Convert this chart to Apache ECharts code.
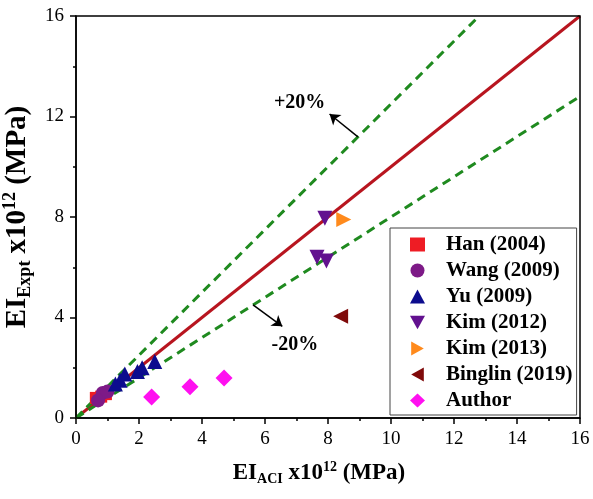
<!DOCTYPE html>
<html>
<head>
<meta charset="utf-8">
<script src="https://cdn.jsdelivr.net/npm/echarts@6/dist/echarts.min.js"></script>
<style>
  html, body { margin: 0; padding: 0; background: #fff; }
  #chart { width: 593px; height: 499px; }
</style>
</head>
<body>
<div id="chart"></div>
<script>
// data: [EI_ACI, EI_Expt] x10^12 MPa
var han = [[0.63, 0.8], [0.8, 0.85], [0.95, 0.95]];
var wang = [[0.85, 1.0], [0.7, 0.7], [1.0, 1.05]];
var yu = [[1.25, 1.35], [1.4, 1.5], [1.55, 1.75], [1.95, 1.85], [2.1, 2.0], [2.5, 2.25]];
var kim2012 = [[7.9, 7.95], [7.65, 6.4], [7.95, 6.25]];
var kim2013 = [[8.5, 7.9]];
var binglin = [[8.4, 4.05]];
var author = [[2.4, 0.84], [3.62, 1.24], [4.7, 1.59]];

// reference lines
var equality = [[0, 0], [16, 16]];
var upper20 = [[0, 0], [12.8, 16]];
var lower20 = [[0, 0], [16, 12.8]];

var axisTicks = { min: 0, max: 16 };

var serif = 'Liberation Serif';

// triangle shapes so the legend icons point the same way as the marks
var triDown = 'path://M0,0L10,0L5,9Z';
var triRight = 'path://M0,0L9,5L0,10Z';
var triLeft = 'path://M9,0L0,5L9,10Z';

var myChart = echarts.init(document.getElementById('chart'));

function scatter(name, data, symbol, color, size) {
  return {
    name: name,
    type: 'scatter',
    data: data,
    symbol: symbol,
    symbolSize: size || 14,
    itemStyle: { color: color, opacity: 1 },
    z: 5
  };
}

function refLine(data, color, type) {
  return {
    type: 'line',
    data: data,
    symbol: 'none',
    silent: true,
    lineStyle: { color: color, width: 3, type: type },
    z: 3
  };
}

function nameRich(size) {
  return {
    b: { fontFamily: serif, fontWeight: 'bold', fontSize: size, color: '#000' },
    sub: { fontFamily: serif, fontWeight: 'bold', fontSize: Math.round(size * 0.62), color: '#000', padding: [Math.round(size * 0.5), 0, 0, 0] },
    sup: { fontFamily: serif, fontWeight: 'bold', fontSize: Math.round(size * 0.62), color: '#000', padding: [0, 0, Math.round(size * 0.5), 0] }
  };
}

var option = {
  animation: false,
  grid: { left: 76, right: 13, top: 16, bottom: 81, containLabel: false, outerBoundsMode: 'none' },
  legend: {
    data: ['Han (2004)', 'Wang (2009)', 'Yu (2009)', 'Kim (2012)', 'Kim (2013)', 'Binglin (2019)', 'Author'],
    orient: 'vertical',
    left: 390,
    top: 228,
    backgroundColor: '#fff',
    borderColor: '#444',
    borderWidth: 1,
    borderRadius: 0,
    padding: [6, 4, 4, 20],
    itemGap: 5,
    itemWidth: 15,
    itemHeight: 14,
    textStyle: { fontFamily: serif, fontWeight: 'bold', fontSize: 21, color: '#000', padding: [0, 0, 0, 16] }
  },
  xAxis: {
    type: 'value',
    min: axisTicks.min, max: axisTicks.max, interval: 2,
    name: '{b|EI}{sub|ACI}{b| x10}{sup|12}{b| (MPa)}',
    nameLocation: 'middle',
    nameGap: 42,
    nameTextStyle: { rich: nameRich(23), padding: [0, 18, 0, 0] },
    axisLine: { onZero: false, lineStyle: { color: '#000', width: 1.5 } },
    axisTick: { inside: false, length: 6, lineStyle: { color: '#000', width: 1.5 } },
    minorTick: { show: true, splitNumber: 2, length: 3, lineStyle: { color: '#000', width: 1.5 } },
    axisLabel: { fontFamily: serif, fontSize: 19, color: '#000', margin: 12 },
    splitLine: { show: false }
  },
  yAxis: {
    type: 'value',
    min: axisTicks.min, max: axisTicks.max, interval: 4,
    name: '{b|EI}{sub|Expt}{b| x10}{sup|12}{b| (MPa)}',
    nameLocation: 'middle',
    nameGap: 41,
    nameTextStyle: { rich: nameRich(29) },
    axisLine: { onZero: false, lineStyle: { color: '#000', width: 1.5 } },
    axisTick: { inside: false, length: 6, lineStyle: { color: '#000', width: 1.5 } },
    minorTick: { show: true, splitNumber: 2, length: 3, lineStyle: { color: '#000', width: 1.5 } },
    axisLabel: { fontFamily: serif, fontSize: 19, color: '#000', margin: 12 },
    splitLine: { show: false }
  },
  graphic: [{
    type: 'rect',
    shape: { x: 76, y: 16, width: 504, height: 402 },
    style: { fill: 'none', stroke: '#000', lineWidth: 1.5 },
    silent: true,
    z: 10
  }],
  series: [
    refLine(equality, '#b8151f', 'solid'),
    refLine(upper20, '#1f8a1f', [9, 6]),
    refLine(lower20, '#1f8a1f', [9, 6]),
    scatter('Han (2004)', han, 'rect', '#ee1c24', 12),
    scatter('Wang (2009)', wang, 'circle', '#7d1a87', 14),
    scatter('Yu (2009)', yu, 'triangle', '#0c0c8e', 15),
    scatter('Kim (2012)', kim2012, triDown, '#62118f', 15),
    scatter('Kim (2013)', kim2013, triRight, '#ff8a1c', 15),
    scatter('Binglin (2019)', binglin, triLeft, '#7f0a0a', 15),
    scatter('Author', author, 'diamond', '#ff10f0', 17),
    {
      type: 'scatter',
      data: [],
      silent: true,
      markLine: {
        silent: true,
        symbol: ['none', 'arrow'],
        symbolSize: 10,
        label: { show: false },
        lineStyle: { color: '#000', width: 1.5, type: 'solid' },
        data: [
          [{ coord: [8.95, 11.19] }, { coord: [8.05, 12.1] }],
          [{ coord: [5.62, 4.5] }, { coord: [6.55, 3.65] }]
        ]
      },
      markPoint: {
        silent: true,
        symbol: 'circle',
        symbolSize: 0,
        label: {
          show: true,
          fontFamily: serif,
          fontWeight: 'bold',
          fontSize: 20,
          color: '#000',
          formatter: function (p) { return p.name; }
        },
        data: [
          { name: '+20%', coord: [7.1, 12.55] },
          { name: '-20%', coord: [6.95, 2.9] }
        ]
      }
    }
  ]
};

myChart.setOption(option);
</script>
</body>
</html>
